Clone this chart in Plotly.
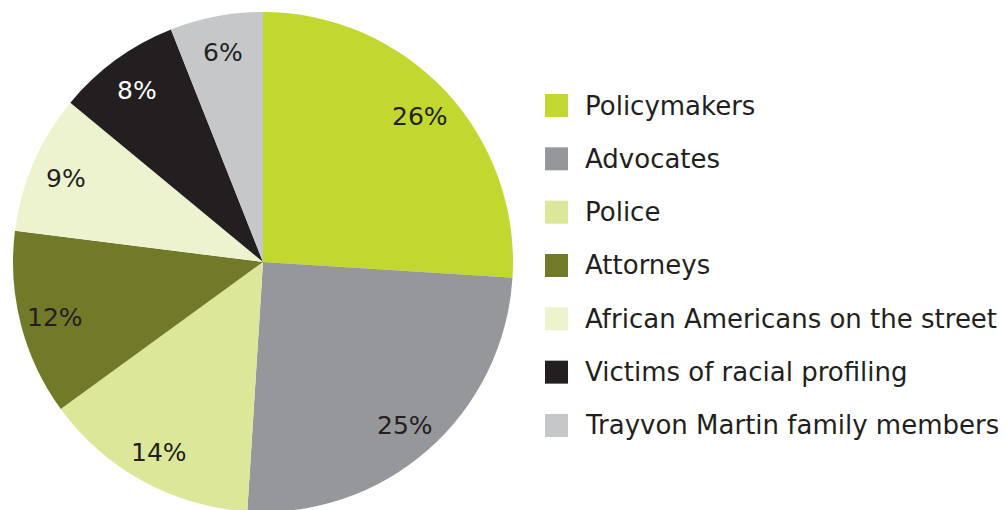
import math
import plotly.graph_objects as go

categories = ["Policymakers", "Advocates", "Police", "Attorneys",
              "African Americans on the street", "Victims of racial profiling",
              "Trayvon Martin family members"]
values = [26, 25, 14, 12, 9, 8, 6]
colors = ["#C2D72F", "#96979B", "#DDE79A", "#727A2A", "#EDF3CF", "#231F20", "#C6C7C9"]
label_colors = ["#231F20", "#231F20", "#231F20", "#231F20", "#231F20", "#FFFFFF", "#231F20"]

W, H = 1006, 510
OFF = 8  # page body margin
TOP = 12 - OFF
BOT = 6
PH = H - TOP - BOT
R = PH / 2
CX = 263 - OFF
FONT = "DejaVu Sans"

fig = go.Figure(go.Pie(
    labels=categories, values=values, sort=False, direction="clockwise",
    rotation=0, marker=dict(colors=colors, line=dict(width=0)),
    textinfo="none", hoverinfo="label+percent", showlegend=False,
    domain=dict(x=[(CX - R) / W, (CX + R) / W], y=[0, 1]),
))


def py(screen_y):
    # screen y (px) -> paper y fraction
    return (H - BOT - (screen_y - OFF)) / PH


annotations = []
shapes = []
total = sum(values)
cum = 0
for v, lc in zip(values, label_colors):
    mid = (cum + v / 2) / total * 2 * math.pi
    cum += v
    rr = 0.86 * R
    x = (CX + rr * math.sin(mid)) / W
    y = 0.5 + rr * math.cos(mid) / PH - 2 / PH
    annotations.append(dict(x=x, y=y, xref="paper", yref="paper", text=f"{v}%",
                            showarrow=False, font=dict(family=FONT, size=25, color=lc),
                            xanchor="center", yanchor="middle"))

# legend
y0 = 105.5
step = 53.33
sq = 23
for i, (cat, col) in enumerate(zip(categories, colors)):
    yc = y0 + i * step
    shapes.append(dict(type="rect", xref="paper", yref="paper",
                       x0=(545 - OFF) / W, x1=(545 + sq - OFF) / W,
                       y0=py(yc + sq / 2), y1=py(yc - sq / 2),
                       fillcolor=col, line=dict(width=0)))
    annotations.append(dict(x=(583 - OFF) / W, y=py(yc), xref="paper", yref="paper",
                            text=cat, showarrow=False, xanchor="left", yanchor="middle",
                            font=dict(family=FONT, size=26, color="#231F20")))

fig.update_layout(
    width=W, height=H, margin=dict(l=0, r=0, t=TOP, b=BOT),
    paper_bgcolor="white", plot_bgcolor="white",
    annotations=annotations, shapes=shapes,
)
fig.write_html("out.html")
